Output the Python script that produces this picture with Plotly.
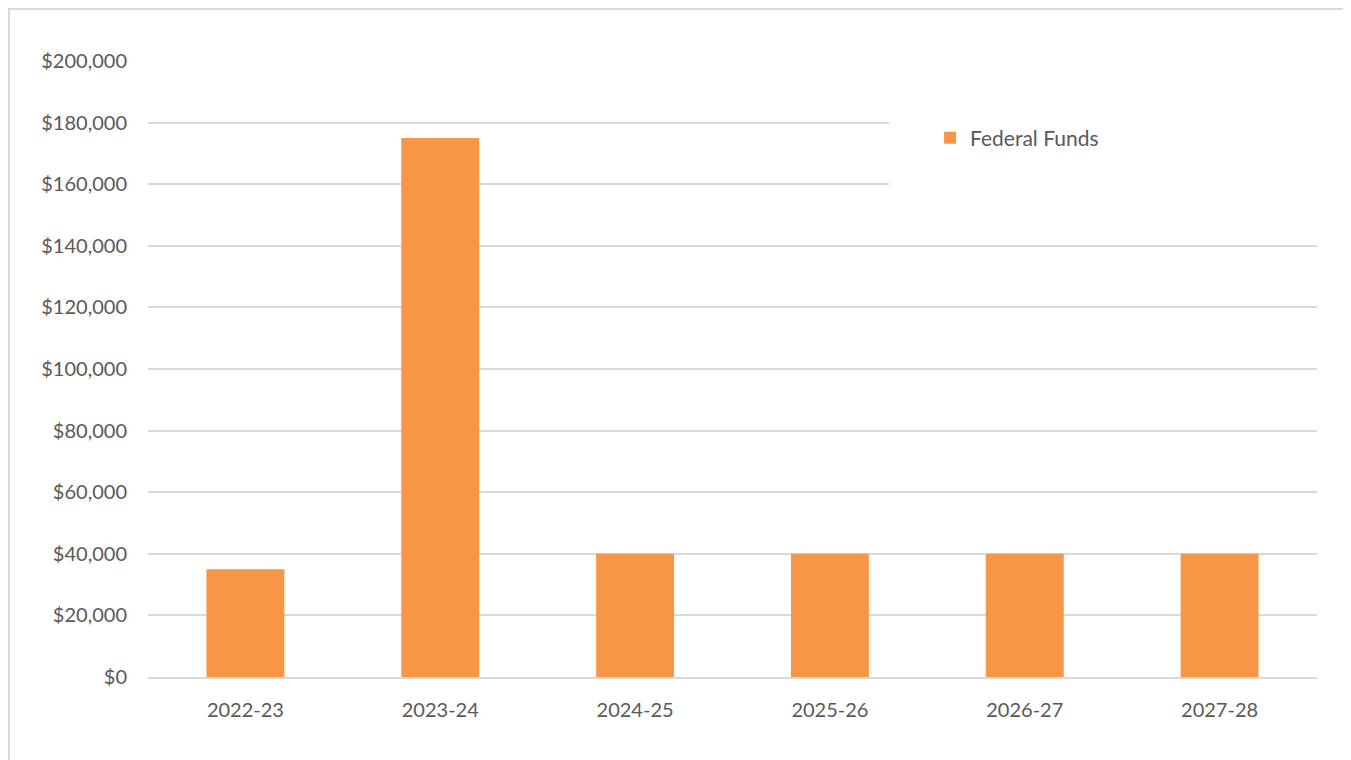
import plotly.graph_objects as go

years = ["2022-23", "2023-24", "2024-25", "2025-26", "2026-27", "2027-28"]
federal_funds = [35000, 175000, 40000, 40000, 40000, 40000]
y_ticks = [0, 20000, 40000, 60000, 80000, 100000, 120000, 140000, 160000, 180000, 200000]
y_tick_labels = ["$" + format(v, ",") for v in y_ticks]

grey = "#595959"
grid = "#d9d9d9"

fig = go.Figure()
fig.add_trace(go.Bar(x=years, y=federal_funds, name="Federal Funds",
                     marker=dict(color="#f79646", line=dict(width=0))))

fig.update_layout(
    width=1343, height=752,
    margin=dict(l=140, r=34, t=53, b=83),
    paper_bgcolor="white", plot_bgcolor="white",
    font=dict(family="Lato, Open Sans, sans-serif", size=20, color=grey),
    bargap=0.6,
    showlegend=True,
    legend=dict(x=0.669, y=0.908, xanchor="left", yanchor="top", itemwidth=30,
                bgcolor="rgba(0,0,0,0)", font=dict(size=21, color=grey)),
    shapes=[
        # white box behind legend hides the gridlines there
        dict(type="rect", xref="paper", yref="paper", x0=0.634, x1=1.02, y0=0.782, y1=0.92,
             fillcolor="white", line=dict(width=0), layer="above"),
        # outer chart border
        dict(type="rect", xref="paper", yref="paper", x0=-0.1189, x1=1.0274, y0=-0.2, y1=1.0844,
             line=dict(color=grid, width=2), fillcolor="rgba(0,0,0,0)", layer="below"),
    ],
)

fig.update_yaxes(range=[0, 200000], tickvals=y_ticks, ticktext=y_tick_labels,
                 showgrid=True, gridcolor=grid, gridwidth=1.5, zeroline=False,
                 showline=False, ticklabelstandoff=20)
fig.update_xaxes(showline=True, linecolor=grid, linewidth=2, ticks="",
                 ticklabelstandoff=14, showgrid=False)

fig.write_html("out.html")
